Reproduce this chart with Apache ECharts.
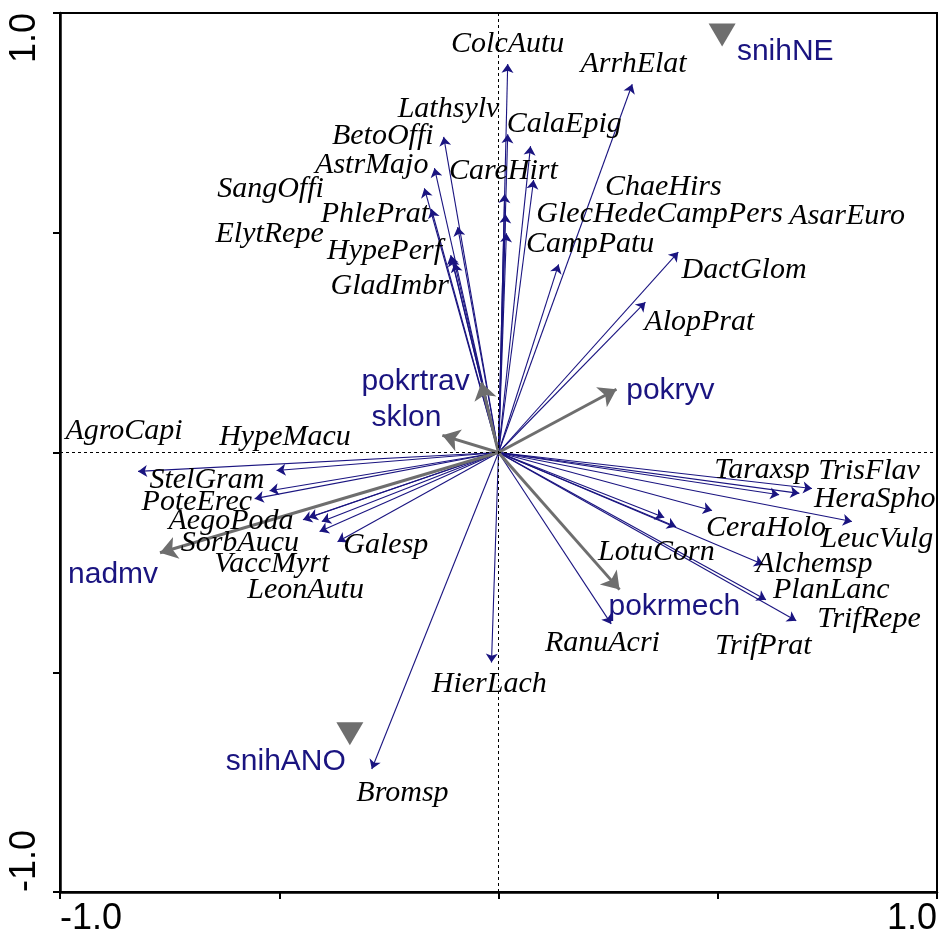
<!DOCTYPE html>
<html>
<head>
<meta charset="utf-8">
<script src="https://cdn.jsdelivr.net/npm/echarts@6/dist/echarts.min.js"></script>
<style>
  html, body { margin: 0; padding: 0; background: #fff; }
  #chart { width: 940px; height: 940px; }
</style>
</head>
<body>
<div id="chart"></div>
<script>
// CCA/RDA biplot: species arrows, environmental arrows, nominal centroids.

// species: arrow tips and label anchors (data units)
const speciesNames = ["ColcAutu", "ArrhElat", "Lathsylv", "BetoOffi", "AstrMajo", "SangOffi", "PhlePrat", "ElytRepe", "HypePerf", "GladImbr",
    "CalaEpig", "CareHirt", "ChaeHirs", "GlecHede", "CampPers", "AsarEuro", "CampPatu", "DactGlom", "AlopPrat",
    "AgroCapi", "HypeMacu", "StelGram", "PoteErec", "AegoPoda", "SorbAucu", "VaccMyrt", "LeonAutu", "Galesp",
    "TrisFlav", "HeraSpho", "Taraxsp", "LeucVulg", "CeraHolo", "LotuCorn", "TrifPrat", "Alchemsp", "PlanLanc", "TrifRepe",
    "RanuAcri", "HierLach", "Bromsp"];
const speciesX = [0.021, 0.305, -0.125, -0.146, -0.169, -0.153, -0.093, -0.109, -0.107, -0.100,
    0.073, 0.080, 0.021, 0.014, 0.018, 0.016, 0.137, 0.410, 0.335,
    -0.822, -0.506, -0.522, -0.556, -0.446, -0.403, -0.408, -0.433, -0.367,
    0.715, 0.686, 0.640, 0.806, 0.487, 0.378, 0.405, 0.604, 0.610, 0.679,
    0.257, -0.016, -0.289];
const speciesY = [0.884, 0.838, 0.718, 0.647, 0.601, 0.554, 0.513, 0.449, 0.444, 0.431,
    0.697, 0.620, 0.724, 0.588, 0.499, 0.542, 0.428, 0.456, 0.342,
    -0.043, -0.041, -0.087, -0.105, -0.153, -0.157, -0.180, -0.148, -0.203,
    -0.082, -0.093, -0.096, -0.157, -0.132, -0.148, -0.169, -0.255, -0.335, -0.383,
    -0.390, -0.478, -0.720];
const speciesLabelX = [0.021, 0.308, -0.114, -0.264, -0.289, -0.520, -0.282, -0.522, -0.260, -0.248,
    0.150, 0.011, 0.376, 0.223, 0.504, 0.795, 0.209, 0.560, 0.458,
    -0.854, -0.487, -0.665, -0.688, -0.610, -0.590, -0.517, -0.440, -0.257,
    0.845, 0.858, 0.601, 0.863, 0.610, 0.360, 0.604, 0.720, 0.759, 0.845,
    0.237, -0.021, -0.219];
const speciesLabelY = [0.929, 0.884, 0.781, 0.720, 0.654, 0.599, 0.542, 0.497, 0.458, 0.378,
    0.747, 0.640, 0.604, 0.542, 0.542, 0.538, 0.474, 0.415, 0.296,
    0.048, 0.036, -0.062, -0.112, -0.157, -0.207, -0.255, -0.312, -0.210,
    -0.043, -0.105, -0.039, -0.198, -0.171, -0.226, -0.440, -0.255, -0.312, -0.380,
    -0.433, -0.526, -0.774];

// environmental variables (grey arrows)
const envNames = ["pokrtrav", "sklon", "pokryv", "nadmv", "pokrmech"];
const envX = [-0.039, -0.128, 0.269, -0.772, 0.276];
const envY = [0.159, 0.039, 0.144, -0.228, -0.312];
const envLabelX = [-0.189, -0.210, 0.392, -0.879, 0.401];
const envLabelY = [0.162, 0.080, 0.141, -0.278, -0.351];

// nominal variables (centroids)
const nomNames = ["snihNE", "snihANO"];
const nomX = [0.510, -0.339];
const nomY = [0.950, -0.640];
const nomLabelX = [0.654, -0.485];
const nomLabelY = [0.913, -0.704];

// axis tick labels shown
const tickLabels = [-1.0, 1.0];

const SANS = "'Liberation Sans', Arial, sans-serif";
const SERIF = "'Liberation Serif', 'Times New Roman', serif";
const NAVY = "#1a1480";
const GREY = "#6e6e6e";

const chart = echarts.init(document.getElementById("chart"));

const tickFormatter = v => tickLabels.some(t => Math.abs(t - v) < 1e-9) ? v.toFixed(1) : "";

const axisCommon = {
    type: "value", min: -1, max: 1, interval: 0.5,
    axisLine: { show: true, onZero: false, lineStyle: { color: "#000", width: 2.5 } },
    axisTick: { show: true, length: 7, lineStyle: { color: "#000", width: 2 } },
    splitLine: { show: false }
};

const arrowData = (xs, ys, names) => names.map((n, i) => ({ name: n, coords: [[0, 0], [xs[i], ys[i]]] }));
const pointData = (xs, ys, names) => names.map((n, i) => ({ name: n, value: [xs[i], ys[i]] }));

chart.setOption({
    animation: false,
    grid: { left: 60, right: 3, top: 13, bottom: 48, show: true, borderColor: "#000", borderWidth: 2, backgroundColor: "transparent" },
    xAxis: {
        ...axisCommon,
        axisLabel: {
            formatter: tickFormatter, fontFamily: SANS, fontSize: 36, color: "#000", margin: 9,
            showMinLabel: true, showMaxLabel: true, alignMinLabel: "left", alignMaxLabel: "right"
        }
    },
    yAxis: {
        ...axisCommon,
        axisLabel: {
            formatter: tickFormatter, fontFamily: SANS, fontSize: 36, color: "#000", margin: 17, rotate: 90,
            showMinLabel: true, showMaxLabel: true, alignMinLabel: "left", alignMaxLabel: "right"
        }
    },
    series: [
        {
            // dashed zero lines
            type: "line", data: [], silent: true,
            markLine: {
                silent: true, symbol: "none", label: { show: false },
                lineStyle: { color: "#000", width: 1, type: [3, 3] },
                data: [{ xAxis: 0 }, { yAxis: 0 }]
            }
        },
        {
            type: "lines", coordinateSystem: "cartesian2d", silent: true,
            symbol: ["none", "arrow"], symbolSize: 9,
            lineStyle: { color: NAVY, width: 1.1, opacity: 1 },
            data: arrowData(speciesX, speciesY, speciesNames)
        },
        {
            type: "lines", coordinateSystem: "cartesian2d", silent: true,
            symbol: ["none", "arrow"], symbolSize: 17,
            lineStyle: { color: GREY, width: 3, opacity: 1 },
            data: arrowData(envX, envY, envNames)
        },
        {
            type: "scatter", silent: true,
            symbol: "triangle", symbolRotate: 180, symbolSize: [27, 23],
            itemStyle: { color: GREY, opacity: 1 },
            data: pointData(nomX, nomY, nomNames)
        },
        {
            type: "scatter", silent: true, symbolSize: 0,
            itemStyle: { opacity: 1 },
            label: { show: true, position: "inside", formatter: p => p.name, fontFamily: SERIF, fontStyle: "italic", fontSize: 30, color: "#000", opacity: 1 },
            data: pointData(speciesLabelX, speciesLabelY, speciesNames)
        },
        {
            type: "scatter", silent: true, symbolSize: 0,
            itemStyle: { opacity: 1 },
            label: { show: true, position: "inside", formatter: p => p.name, fontFamily: SANS, fontSize: 30, color: NAVY, opacity: 1 },
            data: pointData(envLabelX.concat(nomLabelX), envLabelY.concat(nomLabelY), envNames.concat(nomNames))
        }
    ]
});
</script>
</body>
</html>
